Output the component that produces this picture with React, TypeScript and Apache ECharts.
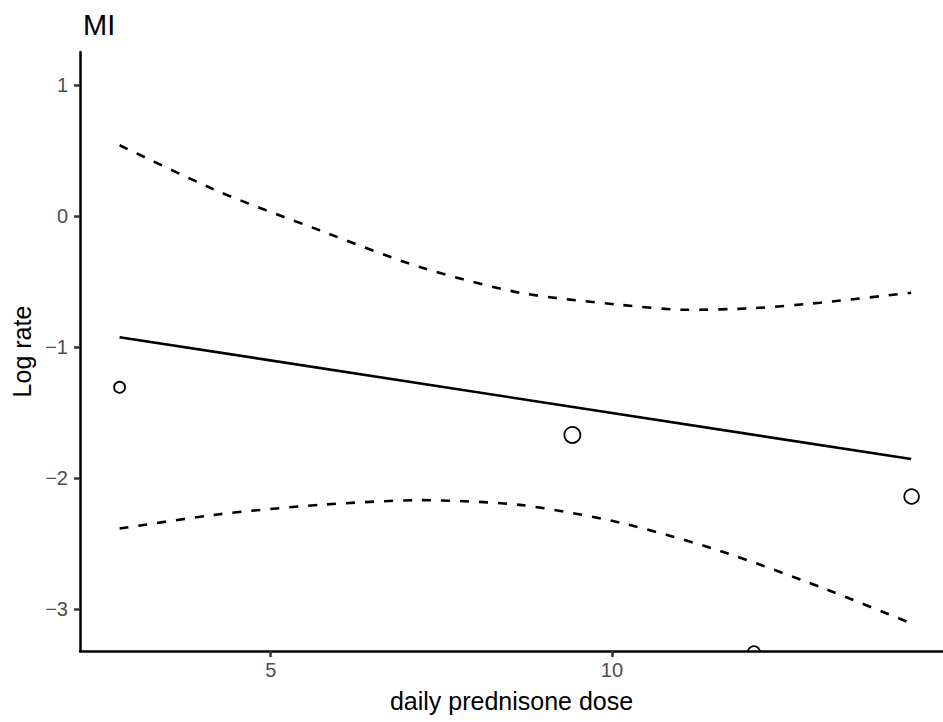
import React, { useEffect, useRef } from "react";
import * as echarts from "echarts";

const FONT = "'Liberation Sans', Arial, Helvetica, sans-serif";

// observed points: dose, log rate, relative weight (drives circle size)
const pointDose = [2.786, 9.42, 14.39, 12.08];
const pointLogRate = [-1.306, -1.67, -2.14, -3.33];
const pointWeight = [5.5, 8, 7.3, 6.2];

// fitted line
const fitDose = [2.786, 14.384];
const fitLogRate = [-0.923, -1.854];

// confidence band (upper / lower)
const upperDose = [2.786, 4.252, 5.718, 7.185, 8.651, 10.117, 11.095, 12.067, 13.05, 14.384];
const upperLogRate = [0.543, 0.186, -0.107, -0.388, -0.584, -0.676, -0.714, -0.702, -0.66, -0.584];
const lowerDose = [2.786, 4.252, 5.718, 7.185, 8.651, 10.117, 11.584, 13.05, 14.384];
const lowerLogRate = [-2.385, -2.275, -2.204, -2.168, -2.204, -2.339, -2.555, -2.831, -3.109];

const xTicks = [5, 10];
const yTicks = [-3, -2, -1, 0, 1];

const fmt = (v: number) => (v < 0 ? "\u2212" + Math.abs(v) : String(v));

export default function App() {
  const ref = useRef<HTMLDivElement>(null);
  useEffect(() => {
    if (!ref.current) return;
    const chart = echarts.init(ref.current, undefined, { renderer: "svg" });
    const pts = pointDose.map((d, i) => [d, pointLogRate[i], pointWeight[i]]);
    const dashed = { color: "#000", width: 2.6, type: [9, 10] };
    chart.setOption({
      animation: false,
      backgroundColor: "#fff",
      title: {
        text: "MI",
        left: 78,
        top: 5,
        textStyle: { fontSize: 29, fontWeight: "normal", color: "#000", fontFamily: FONT },
      },
      grid: { left: 80, right: 0, top: 52, bottom: 71, containLabel: false, outerBoundsMode: "none" },
      xAxis: {
        type: "value",
        min: 2.206,
        max: 14.85,
        name: "daily prednisone dose",
        nameLocation: "middle",
        nameGap: 37,
        nameTextStyle: { fontSize: 25, color: "#000", fontFamily: FONT },
        splitLine: { show: false },
        axisLine: { show: true, onZero: false, lineStyle: { color: "#000", width: 2.5 } },
        axisTick: { show: true, length: 6, customValues: xTicks, lineStyle: { color: "#333", width: 2.5 } },
        axisLabel: {
          customValues: xTicks,
          fontSize: 20,
          color: "#4D4D4D",
          fontFamily: FONT,
          margin: 9,
          formatter: fmt,
        },
      },
      yAxis: {
        type: "value",
        min: -3.32,
        max: 1.255,
        name: "Log rate",
        nameLocation: "middle",
        nameGap: 43,
        nameTextStyle: { fontSize: 25, color: "#000", fontFamily: FONT },
        splitLine: { show: false },
        axisLine: { show: true, onZero: false, lineStyle: { color: "#000", width: 2.5 } },
        axisTick: { show: true, length: 6, customValues: yTicks, lineStyle: { color: "#333", width: 2.5 } },
        axisLabel: {
          customValues: yTicks,
          fontSize: 20,
          color: "#4D4D4D",
          fontFamily: FONT,
          margin: 12,
          formatter: fmt,
        },
      },
      series: [
        {
          type: "line",
          data: upperDose.map((d, i) => [d, upperLogRate[i]]),
          smooth: 0.25,
          showSymbol: false,
          symbol: "none",
          lineStyle: dashed,
          clip: true,
        },
        {
          type: "line",
          data: lowerDose.map((d, i) => [d, lowerLogRate[i]]),
          smooth: 0.25,
          showSymbol: false,
          symbol: "none",
          lineStyle: dashed,
          clip: true,
        },
        {
          type: "line",
          data: fitDose.map((d, i) => [d, fitLogRate[i]]),
          showSymbol: false,
          symbol: "none",
          lineStyle: { color: "#000", width: 2.6 },
          clip: true,
        },
        {
          type: "custom",
          clip: true,
          data: pts,
          renderItem: (params: any, api: any) => {
            const c = api.coord([api.value(0), api.value(1)]);
            return {
              type: "circle",
              shape: { cx: c[0], cy: c[1], r: api.value(2) },
              style: { fill: "none", stroke: "#000", lineWidth: 1.8 },
            };
          },
        },
      ],
    });
    return () => chart.dispose();
  }, []);
  return (
    <div style={{ position: "fixed", left: 0, top: 0, width: 943, height: 722, background: "#fff" }}>
      <div ref={ref} style={{ width: 943, height: 722 }} />
    </div>
  );
}
